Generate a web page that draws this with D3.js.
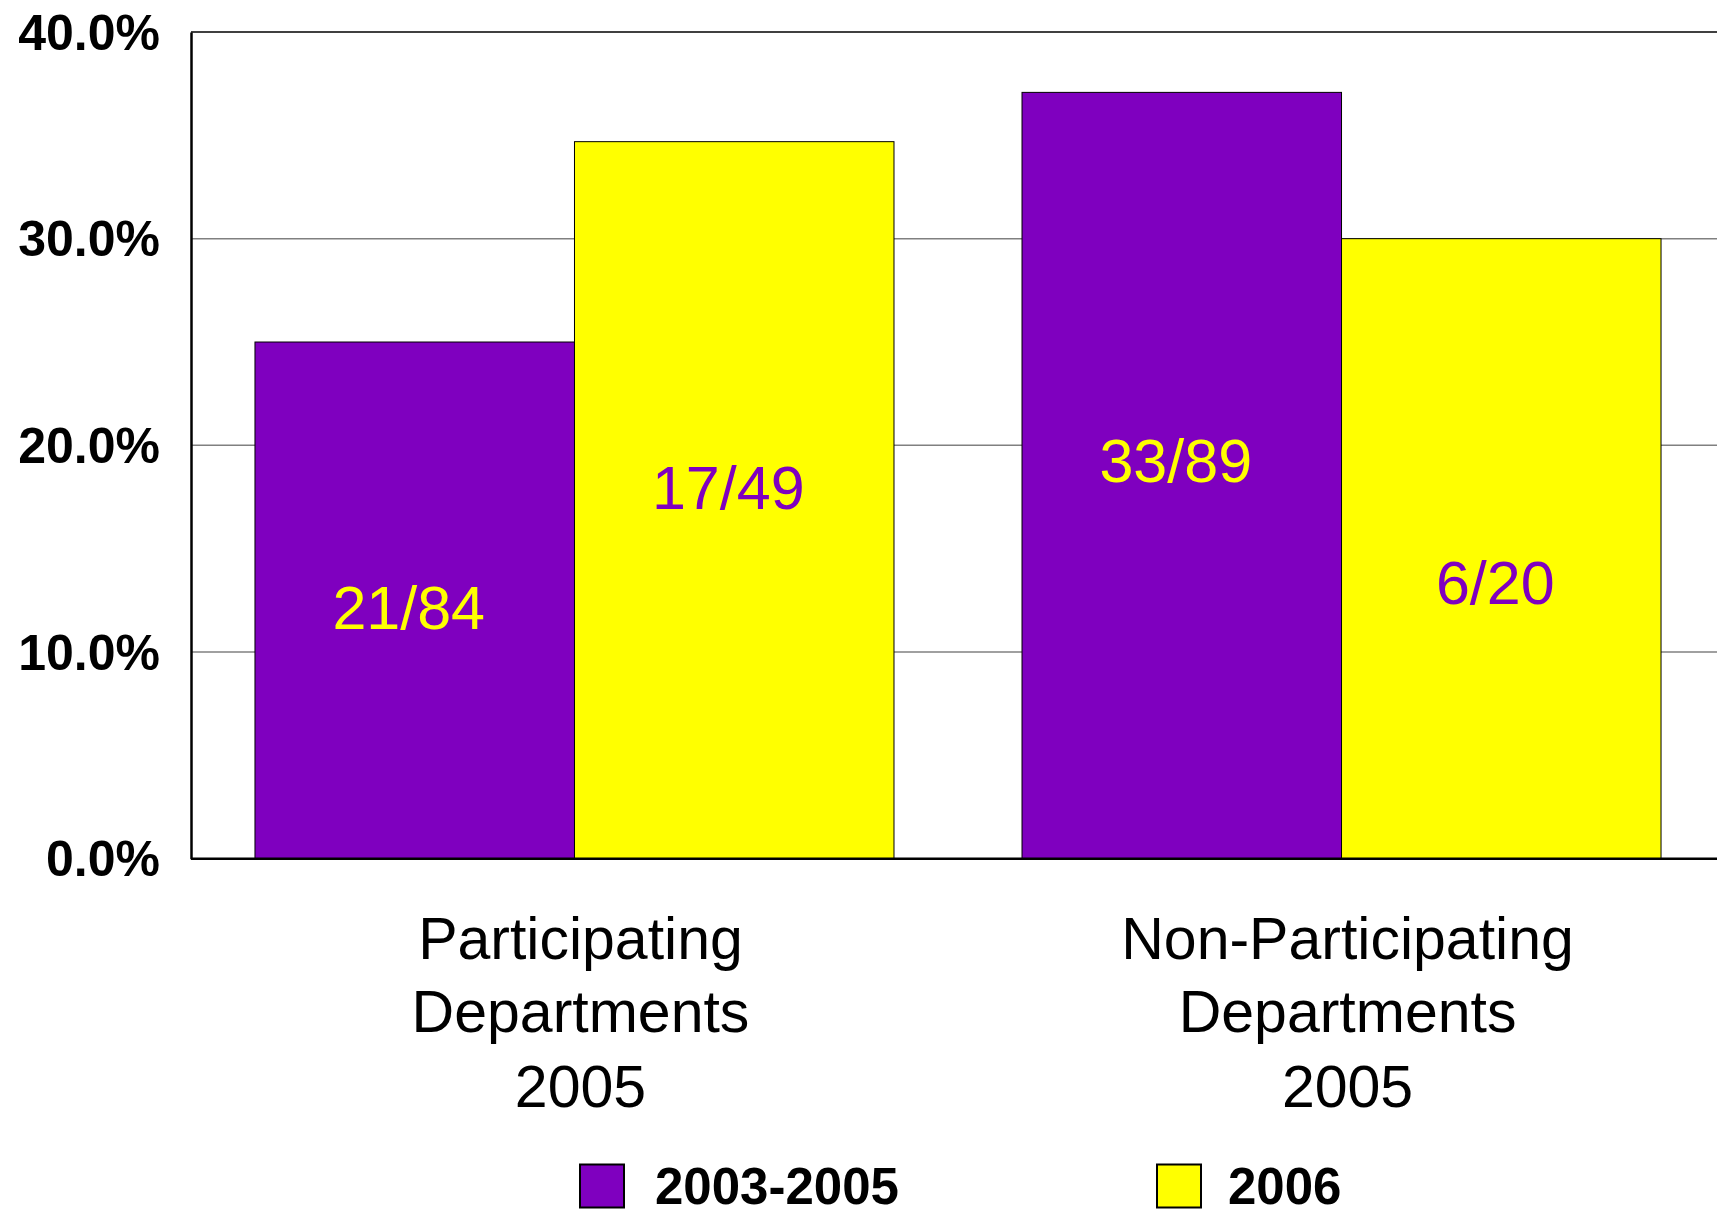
<!DOCTYPE html>
<html>
<head>
<meta charset="utf-8">
<script src="https://cdn.jsdelivr.net/npm/d3@7"></script>
<style>
  html, body { margin: 0; padding: 0; background: #ffffff; }
  svg { display: block; font-family: "Liberation Sans", Arial, Helvetica, sans-serif; }
</style>
</head>
<body>
<svg id="chart" width="1717" height="1209"></svg>
<script>
// ---- data ----
const categories = ["Participating Departments 2005", "Non-Participating Departments 2005"];
const categoryLines = [["Participating", "Departments", "2005"], ["Non-Participating", "Departments", "2005"]];
const series = ["2003-2005", "2006"];
const numerators = [[21, 17], [33, 6]];
const denominators = [[84, 49], [89, 20]];
const labelAnchors = [[0.122, 0.180], [0.193, 0.134]]; // value at which each fraction label is centred
const yTicks = [0, 0.1, 0.2, 0.3, 0.4];
const colors = ["#7F00BF", "#FFFF00"];
const labelColors = ["#FFFF00", "#7F00BF"];

(function () {
// ---- layout ----
const svg = d3.select("#chart");
const W = 1717, H = 1209;
const mLeft = 191, mTop = 32, mBottom = 858.7, mRight = 1725;

svg.append("rect").attr("width", W).attr("height", H).attr("fill", "#fff");

const x0 = d3.scaleBand().domain(categories).range([mLeft, mRight])
  .paddingInner(0.1669).paddingOuter(0.0834);
const x1 = d3.scaleBand().domain(series).range([0, x0.bandwidth()]).padding(0);
const y = d3.scaleLinear().domain([0, 0.4]).range([mBottom, mTop]);

// gridlines
svg.append("g").selectAll("line").data(yTicks.filter(d => d > 0 && d < 0.4)).join("line")
  .attr("x1", mLeft).attr("x2", W).attr("y1", d => y(d)).attr("y2", d => y(d))
  .attr("stroke", "#808080").attr("stroke-width", 1.5);
// top border
svg.append("line").attr("x1", mLeft).attr("x2", W).attr("y1", y(0.4)).attr("y2", y(0.4))
  .attr("stroke", "#000").attr("stroke-width", 1.5);

// bars
const rows = [];
categories.forEach((c, i) => series.forEach((s, j) => rows.push({
  c, s, i, j, v: numerators[i][j] / denominators[i][j],
  label: numerators[i][j] + "/" + denominators[i][j], anchor: labelAnchors[i][j]
})));

const g = svg.append("g");
g.selectAll("rect").data(rows).join("rect")
  .attr("x", d => x0(d.c) + x1(d.s))
  .attr("y", d => y(d.v))
  .attr("width", x1.bandwidth())
  .attr("height", d => y(0) - y(d.v))
  .attr("fill", d => colors[d.j])
  .attr("stroke", "#000").attr("stroke-width", 1);

g.selectAll("text").data(rows).join("text")
  .attr("x", d => x0(d.c) + x1(d.s) + x1.bandwidth() / 2 - 6)
  .attr("y", d => y(d.anchor))
  .attr("dy", "0.36em")
  .attr("text-anchor", "middle")
  .attr("font-size", 61)
  .attr("fill", d => labelColors[d.j])
  .text(d => d.label);

// y axis
const yAxis = svg.append("g").attr("transform", `translate(${mLeft},0)`)
  .call(d3.axisLeft(y).tickValues(yTicks).tickFormat(d3.format(".1%")).tickSize(0).tickPadding(31));
yAxis.select(".domain").attr("stroke", "#000").attr("stroke-width", 2.5);
yAxis.selectAll("text").attr("font-size", 50).attr("font-weight", "bold").attr("fill", "#000")
  .attr("font-family", "'Liberation Sans', Arial, sans-serif").attr("dy", "0.34em");

// x axis
const xAxis = svg.append("g").attr("transform", `translate(0,${mBottom})`)
  .call(d3.axisBottom(x0).tickSize(0).tickFormat(""));
xAxis.select(".domain").attr("d", `M${mLeft},0H${W}`).attr("stroke", "#000").attr("stroke-width", 2.5);
xAxis.selectAll(".tick").each(function (d, i) {
  const t = d3.select(this).select("text")
    .attr("font-size", 59).attr("fill", "#000").attr("y", 0).attr("dy", null)
    .attr("font-family", "'Liberation Sans', Arial, sans-serif")
    .attr("transform", "translate(6,0)");
  const baselines = [100, 173, 248];
  categoryLines[i].forEach((line, k) => {
    t.append("tspan").attr("x", 0).attr("y", baselines[k]).text(line);
  });
});

// legend
const legendX = [580, 1157];
const legendTextX = [655, 1228];
const leg = svg.append("g");
series.forEach((s, j) => {
  leg.append("rect").attr("x", legendX[j]).attr("y", 1164.5).attr("width", 44).attr("height", 43)
    .attr("fill", colors[j]).attr("stroke", "#000").attr("stroke-width", 2);
  leg.append("text").attr("x", legendTextX[j]).attr("y", 1204)
    .attr("font-size", 51).attr("font-weight", "bold").attr("fill", "#000").text(s);
});
})();
</script>
</body>
</html>
